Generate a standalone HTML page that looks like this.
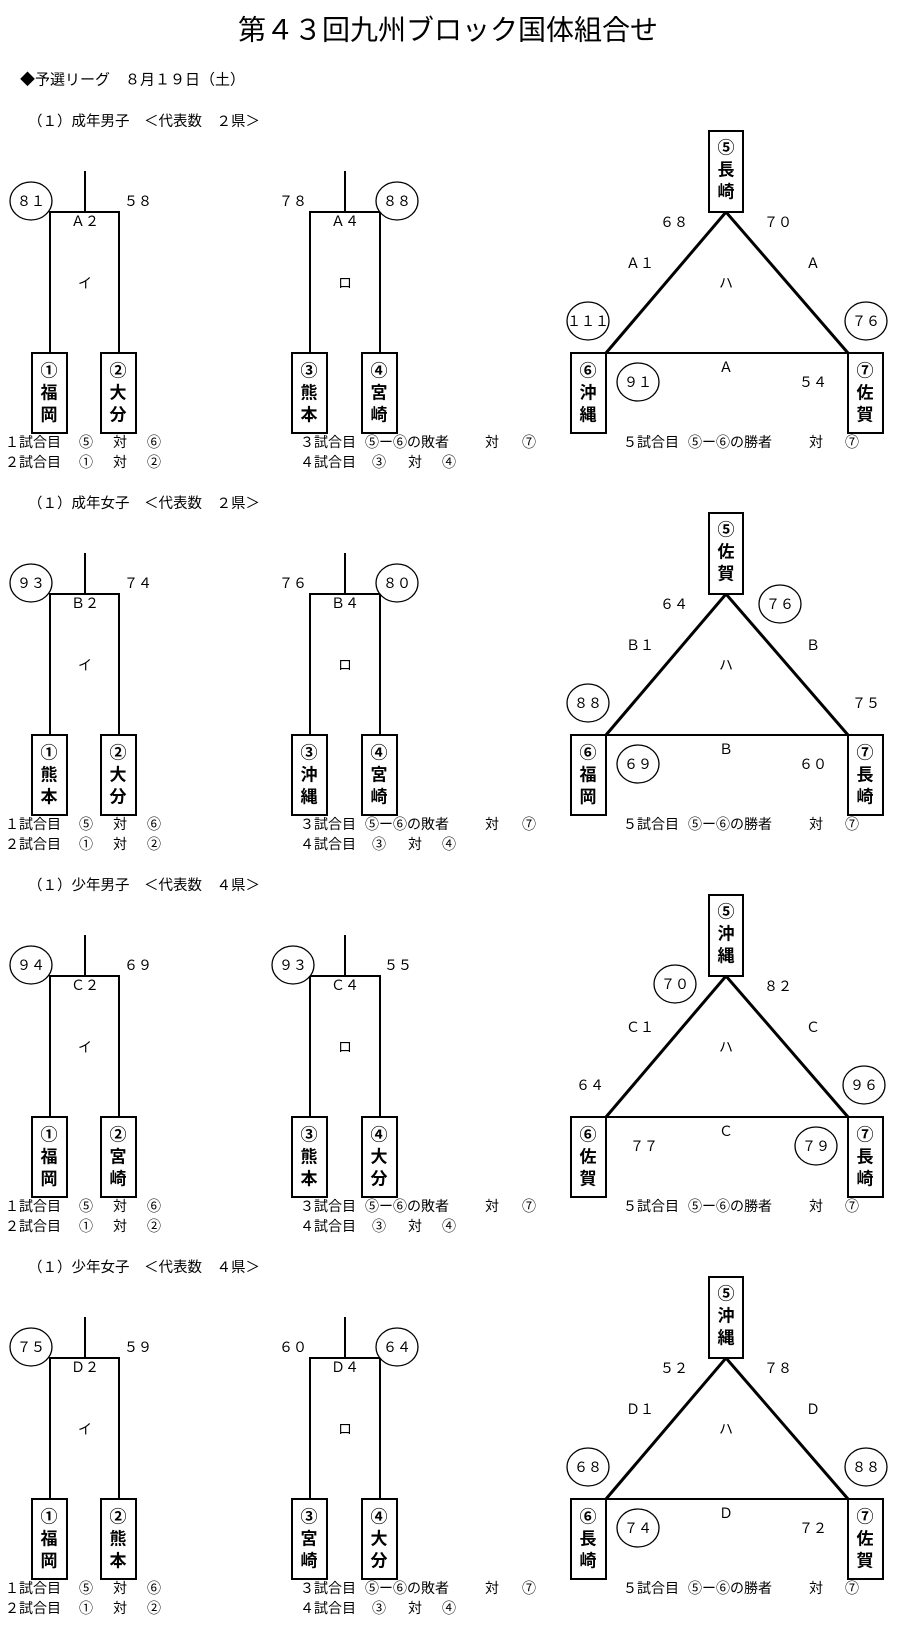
<!DOCTYPE html>
<html><head><meta charset="utf-8"><style>
html,body{margin:0;padding:0;background:#fff;}
svg{display:block;}
text{font-family:"Liberation Sans","Noto Sans CJK JP",sans-serif;fill:#000;}
.n{font-size:14px;text-anchor:middle;dominant-baseline:central;}
.b{font-size:17px;font-weight:bold;text-anchor:middle;dominant-baseline:central;}
.t{font-size:15px;dominant-baseline:central;}
.h{font-size:14.5px;dominant-baseline:central;}
.f{font-size:14px;dominant-baseline:central;}
.l{stroke:#000;stroke-width:2;fill:none;}
.bx{stroke:#000;stroke-width:2;fill:#fff;}
.c{stroke:#000;stroke-width:1.3;fill:#fff;}
</style></head><body>
<svg width="900" height="1631" viewBox="0 0 900 1631" xmlns="http://www.w3.org/2000/svg">
<text x="448" y="30" style="font-size:28px;text-anchor:middle;dominant-baseline:central">第４３回九州ブロック国体組合せ</text>
<text x="20" y="80" class="t">◆予選リーグ　８月１９日（土）</text>

<defs>
<g id="frame">
  <line x1="85" y1="171" x2="85" y2="212" class="l"/>
  <path d="M50,353 V212 H119 V353" class="l"/>
  <line x1="345" y1="171" x2="345" y2="212" class="l"/>
  <path d="M310,353 V212 H380 V353" class="l"/>
  <path d="M606,353 L726,212 L848,353" class="l" style="stroke-width:3"/>
  <line x1="606" y1="353" x2="848" y2="353" class="l"/>
  <rect x="32" y="353" width="35" height="80" class="bx"/>
  <rect x="101" y="353" width="35" height="80" class="bx"/>
  <rect x="292" y="353" width="35" height="80" class="bx"/>
  <rect x="362" y="353" width="35" height="80" class="bx"/>
  <rect x="709" y="131" width="34" height="81" class="bx"/>
  <rect x="571" y="353" width="35" height="80" class="bx"/>
  <rect x="848" y="353" width="35" height="80" class="bx"/>
  <text x="85" y="283" class="n">イ</text>
  <text x="345" y="283" class="n">ロ</text>
  <text x="726" y="283" class="n">ハ</text>
  <text x="5" y="442" class="f">１試合目</text><text x="79" y="442" class="f">⑤</text><text x="113" y="442" class="f">対</text><text x="147" y="442" class="f">⑥</text>
  <text x="5" y="462" class="f">２試合目</text><text x="79" y="462" class="f">①</text><text x="113" y="462" class="f">対</text><text x="147" y="462" class="f">②</text>
  <text x="300" y="442" class="f">３試合目</text><text x="365" y="442" class="f">⑤ー⑥の敗者</text><text x="485" y="442" class="f">対</text><text x="522" y="442" class="f">⑦</text>
  <text x="300" y="462" class="f">４試合目</text><text x="372" y="462" class="f">③</text><text x="408" y="462" class="f">対</text><text x="442" y="462" class="f">④</text>
  <text x="623" y="442" class="f">５試合目</text><text x="688" y="442" class="f">⑤ー⑥の勝者</text><text x="809" y="442" class="f">対</text><text x="845" y="442" class="f">⑦</text>
</g>
</defs>

<g>
<use href="#frame"/>
<text x="28" y="122" class="h">（１）成年男子　＜代表数　２県＞</text>
<ellipse cx="31" cy="201" rx="21" ry="19" class="c"/><text x="31" y="201" class="n">８１</text>
<text x="138" y="201" class="n">５８</text>
<text x="85" y="221" class="n">Ａ２</text>
<text x="293" y="201" class="n">７８</text>
<ellipse cx="397" cy="201" rx="21" ry="19" class="c"/><text x="397" y="201" class="n">８８</text>
<text x="345" y="221" class="n">Ａ４</text>
<text x="49" y="371" class="b">①</text><text x="49" y="393" class="b">福</text><text x="49" y="415" class="b">岡</text>
<text x="118" y="371" class="b">②</text><text x="118" y="393" class="b">大</text><text x="118" y="415" class="b">分</text>
<text x="309" y="371" class="b">③</text><text x="309" y="393" class="b">熊</text><text x="309" y="415" class="b">本</text>
<text x="379" y="371" class="b">④</text><text x="379" y="393" class="b">宮</text><text x="379" y="415" class="b">崎</text>
<text x="726" y="148" class="b">⑤</text><text x="726" y="170" class="b">長</text><text x="726" y="192" class="b">崎</text>
<text x="588" y="371" class="b">⑥</text><text x="588" y="393" class="b">沖</text><text x="588" y="415" class="b">縄</text>
<text x="865" y="371" class="b">⑦</text><text x="865" y="393" class="b">佐</text><text x="865" y="415" class="b">賀</text>
<text x="674" y="222" class="n">６８</text>
<text x="778" y="222" class="n">７０</text>
<text x="640" y="263" class="n">Ａ１</text><text x="813" y="263" class="n">Ａ</text>
<ellipse cx="588" cy="321" rx="21" ry="19" class="c"/><text x="588" y="321" class="n">１１１</text>
<ellipse cx="866" cy="321" rx="21" ry="19" class="c"/><text x="866" y="321" class="n">７６</text>
<text x="726" y="367" class="n">Ａ</text>
<ellipse cx="638" cy="382" rx="21" ry="19" class="c"/><text x="638" y="382" class="n">９１</text>
<text x="813" y="382" class="n">５４</text>
</g>

<g transform="translate(0,382)">
<use href="#frame"/>
<text x="28" y="122" class="h">（１）成年女子　＜代表数　２県＞</text>
<ellipse cx="31" cy="201" rx="21" ry="19" class="c"/><text x="31" y="201" class="n">９３</text>
<text x="138" y="201" class="n">７４</text>
<text x="85" y="221" class="n">Ｂ２</text>
<text x="293" y="201" class="n">７６</text>
<ellipse cx="397" cy="201" rx="21" ry="19" class="c"/><text x="397" y="201" class="n">８０</text>
<text x="345" y="221" class="n">Ｂ４</text>
<text x="49" y="371" class="b">①</text><text x="49" y="393" class="b">熊</text><text x="49" y="415" class="b">本</text>
<text x="118" y="371" class="b">②</text><text x="118" y="393" class="b">大</text><text x="118" y="415" class="b">分</text>
<text x="309" y="371" class="b">③</text><text x="309" y="393" class="b">沖</text><text x="309" y="415" class="b">縄</text>
<text x="379" y="371" class="b">④</text><text x="379" y="393" class="b">宮</text><text x="379" y="415" class="b">崎</text>
<text x="726" y="148" class="b">⑤</text><text x="726" y="170" class="b">佐</text><text x="726" y="192" class="b">賀</text>
<text x="588" y="371" class="b">⑥</text><text x="588" y="393" class="b">福</text><text x="588" y="415" class="b">岡</text>
<text x="865" y="371" class="b">⑦</text><text x="865" y="393" class="b">長</text><text x="865" y="415" class="b">崎</text>
<text x="674" y="222" class="n">６４</text>
<ellipse cx="780" cy="222" rx="21" ry="19" class="c"/><text x="780" y="222" class="n">７６</text>
<text x="640" y="263" class="n">Ｂ１</text><text x="813" y="263" class="n">Ｂ</text>
<ellipse cx="588" cy="321" rx="21" ry="19" class="c"/><text x="588" y="321" class="n">８８</text>
<text x="866" y="321" class="n">７５</text>
<text x="726" y="367" class="n">Ｂ</text>
<ellipse cx="638" cy="382" rx="21" ry="19" class="c"/><text x="638" y="382" class="n">６９</text>
<text x="813" y="382" class="n">６０</text>
</g>

<g transform="translate(0,764)">
<use href="#frame"/>
<text x="28" y="122" class="h">（１）少年男子　＜代表数　４県＞</text>
<ellipse cx="31" cy="201" rx="21" ry="19" class="c"/><text x="31" y="201" class="n">９４</text>
<text x="138" y="201" class="n">６９</text>
<text x="85" y="221" class="n">Ｃ２</text>
<ellipse cx="293" cy="201" rx="21" ry="19" class="c"/><text x="293" y="201" class="n">９３</text>
<text x="398" y="201" class="n">５５</text>
<text x="345" y="221" class="n">Ｃ４</text>
<text x="49" y="371" class="b">①</text><text x="49" y="393" class="b">福</text><text x="49" y="415" class="b">岡</text>
<text x="118" y="371" class="b">②</text><text x="118" y="393" class="b">宮</text><text x="118" y="415" class="b">崎</text>
<text x="309" y="371" class="b">③</text><text x="309" y="393" class="b">熊</text><text x="309" y="415" class="b">本</text>
<text x="379" y="371" class="b">④</text><text x="379" y="393" class="b">大</text><text x="379" y="415" class="b">分</text>
<text x="726" y="148" class="b">⑤</text><text x="726" y="170" class="b">沖</text><text x="726" y="192" class="b">縄</text>
<text x="588" y="371" class="b">⑥</text><text x="588" y="393" class="b">佐</text><text x="588" y="415" class="b">賀</text>
<text x="865" y="371" class="b">⑦</text><text x="865" y="393" class="b">長</text><text x="865" y="415" class="b">崎</text>
<ellipse cx="675" cy="220" rx="21" ry="19" class="c"/><text x="675" y="220" class="n">７０</text>
<text x="778" y="222" class="n">８２</text>
<text x="640" y="263" class="n">Ｃ１</text><text x="813" y="263" class="n">Ｃ</text>
<text x="590" y="321" class="n">６４</text>
<ellipse cx="864" cy="321" rx="21" ry="19" class="c"/><text x="864" y="321" class="n">９６</text>
<text x="726" y="367" class="n">Ｃ</text>
<text x="644" y="382" class="n">７７</text>
<ellipse cx="816" cy="382" rx="21" ry="19" class="c"/><text x="816" y="382" class="n">７９</text>
</g>

<g transform="translate(0,1146)">
<use href="#frame"/>
<text x="28" y="122" class="h">（１）少年女子　＜代表数　４県＞</text>
<ellipse cx="31" cy="201" rx="21" ry="19" class="c"/><text x="31" y="201" class="n">７５</text>
<text x="138" y="201" class="n">５９</text>
<text x="85" y="221" class="n">Ｄ２</text>
<text x="293" y="201" class="n">６０</text>
<ellipse cx="397" cy="201" rx="21" ry="19" class="c"/><text x="397" y="201" class="n">６４</text>
<text x="345" y="221" class="n">Ｄ４</text>
<text x="49" y="371" class="b">①</text><text x="49" y="393" class="b">福</text><text x="49" y="415" class="b">岡</text>
<text x="118" y="371" class="b">②</text><text x="118" y="393" class="b">熊</text><text x="118" y="415" class="b">本</text>
<text x="309" y="371" class="b">③</text><text x="309" y="393" class="b">宮</text><text x="309" y="415" class="b">崎</text>
<text x="379" y="371" class="b">④</text><text x="379" y="393" class="b">大</text><text x="379" y="415" class="b">分</text>
<text x="726" y="148" class="b">⑤</text><text x="726" y="170" class="b">沖</text><text x="726" y="192" class="b">縄</text>
<text x="588" y="371" class="b">⑥</text><text x="588" y="393" class="b">長</text><text x="588" y="415" class="b">崎</text>
<text x="865" y="371" class="b">⑦</text><text x="865" y="393" class="b">佐</text><text x="865" y="415" class="b">賀</text>
<text x="674" y="222" class="n">５２</text>
<text x="778" y="222" class="n">７８</text>
<text x="640" y="263" class="n">Ｄ１</text><text x="813" y="263" class="n">Ｄ</text>
<ellipse cx="588" cy="321" rx="21" ry="19" class="c"/><text x="588" y="321" class="n">６８</text>
<ellipse cx="866" cy="321" rx="21" ry="19" class="c"/><text x="866" y="321" class="n">８８</text>
<text x="726" y="367" class="n">Ｄ</text>
<ellipse cx="638" cy="382" rx="21" ry="19" class="c"/><text x="638" y="382" class="n">７４</text>
<text x="813" y="382" class="n">７２</text>
</g>
</svg>
</body></html>
